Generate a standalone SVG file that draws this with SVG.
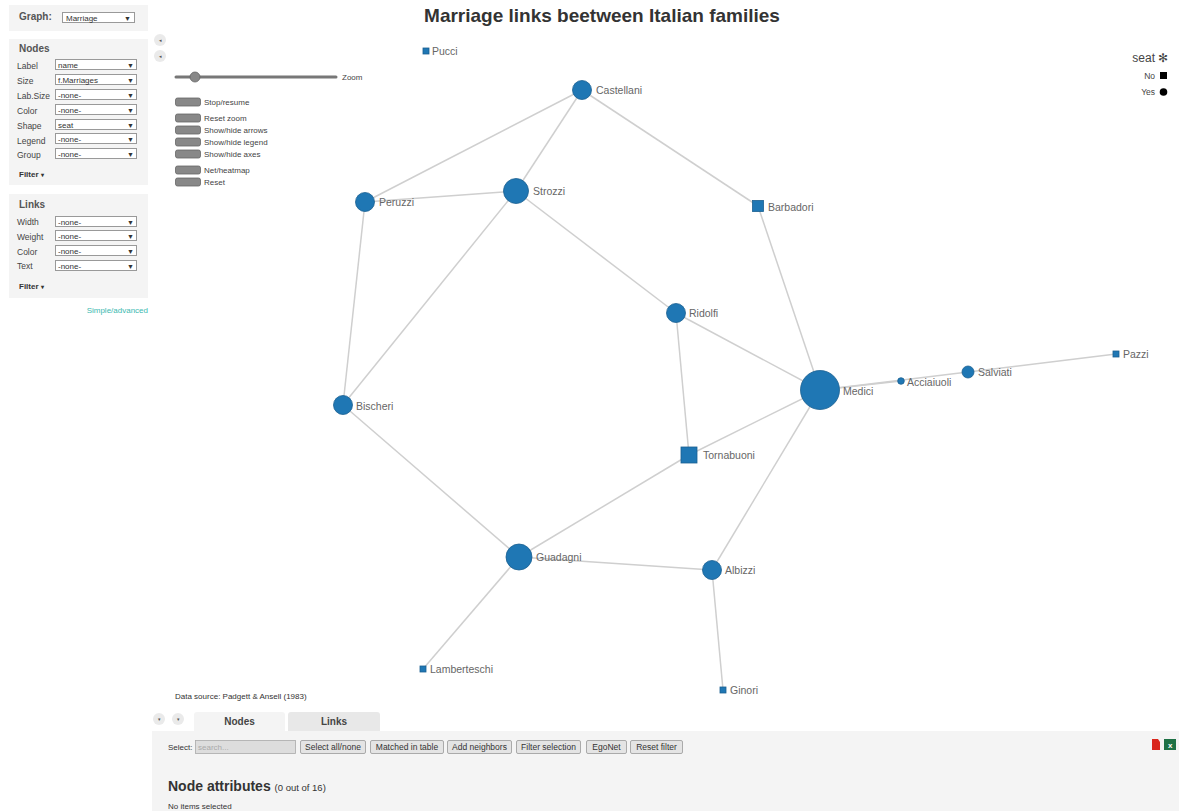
<svg xmlns="http://www.w3.org/2000/svg" width="1179" height="811" viewBox="0 0 1179 811">
<defs>
<style>
text{font-family:"Liberation Sans",Arial,sans-serif;}
.panel{fill:#f4f4f4;}
.lbl{font-size:8.5px;fill:#444;}
.sel{fill:#fff;stroke:#999;stroke-width:1;}
.selt{font-size:8px;fill:#333;}
.arr{font-size:7px;fill:#333;}
.hd{font-size:10px;font-weight:bold;fill:#555;}
.flt{font-size:8px;font-weight:bold;fill:#333;}
.btn{fill:#888;stroke:#666;stroke-width:0.8;}
.bt{font-size:8px;fill:#444;}
.edge{stroke:#cfcfcf;stroke-width:1.5;fill:none;}
.nd{fill:#1f77b4;stroke:#1a5f91;stroke-width:0.8;}
.nl{font-size:10.5px;fill:#666;}
.bb{fill:#e4e4e4;stroke:#999;stroke-width:0.8;}
.bbt{font-size:8.5px;fill:#333;text-anchor:middle;}
.sm{fill:#eaeaea;}
</style>
</defs>
<rect width="1179" height="811" fill="#fff"/>

<!-- Left panel -->
<g id="graph-panel">
<rect class="panel" x="9" y="5" width="139" height="26"/>
<text x="19" y="20" class="hd" style="font-size:10px">Graph:</text>
<rect class="sel" x="62.5" y="12.5" width="72" height="10"/>
<text x="66" y="20.5" class="selt">Marriage</text>
<text x="124" y="20.5" class="arr">▼</text>
</g>
<g id="nodes-panel">
<rect class="panel" x="9" y="39" width="139" height="146"/>
<text x="19" y="52" class="hd">Nodes</text>
<text x="17" y="69" class="lbl">Label</text>
<text x="17" y="84" class="lbl">Size</text>
<text x="17" y="99" class="lbl">Lab.Size</text>
<text x="17" y="114" class="lbl">Color</text>
<text x="17" y="129" class="lbl">Shape</text>
<text x="17" y="144" class="lbl">Legend</text>
<text x="17" y="158" class="lbl">Group</text>
<rect class="sel" x="55.5" y="59.5" width="81" height="10"/><text x="58" y="67.5" class="selt">name</text><text x="127" y="67.5" class="arr">▼</text>
<rect class="sel" x="55.5" y="74.5" width="81" height="10"/><text x="58" y="82.5" class="selt">f.Marriages</text><text x="127" y="82.5" class="arr">▼</text>
<rect class="sel" x="55.5" y="89.5" width="81" height="10"/><text x="58" y="97.5" class="selt">-none-</text><text x="127" y="97.5" class="arr">▼</text>
<rect class="sel" x="55.5" y="104.5" width="81" height="10"/><text x="58" y="112.5" class="selt">-none-</text><text x="127" y="112.5" class="arr">▼</text>
<rect class="sel" x="55.5" y="119.5" width="81" height="10"/><text x="58" y="127.5" class="selt">seat</text><text x="127" y="127.5" class="arr">▼</text>
<rect class="sel" x="55.5" y="133.5" width="81" height="10"/><text x="58" y="141.5" class="selt">-none-</text><text x="127" y="141.5" class="arr">▼</text>
<rect class="sel" x="55.5" y="148.5" width="81" height="10"/><text x="58" y="156.5" class="selt">-none-</text><text x="127" y="156.5" class="arr">▼</text>
<text x="19" y="177" class="flt">Filter <tspan font-size="6">▾</tspan></text>
</g>
<g id="links-panel">
<rect class="panel" x="9" y="194" width="139" height="104"/>
<text x="19" y="208" class="hd">Links</text>
<text x="17" y="225" class="lbl">Width</text>
<text x="17" y="240" class="lbl">Weight</text>
<text x="17" y="255" class="lbl">Color</text>
<text x="17" y="269" class="lbl">Text</text>
<rect class="sel" x="55.5" y="216.5" width="81" height="10"/><text x="58" y="224.5" class="selt">-none-</text><text x="127" y="224.5" class="arr">▼</text>
<rect class="sel" x="55.5" y="230.5" width="81" height="10"/><text x="58" y="238.5" class="selt">-none-</text><text x="127" y="238.5" class="arr">▼</text>
<rect class="sel" x="55.5" y="245.5" width="81" height="10"/><text x="58" y="253.5" class="selt">-none-</text><text x="127" y="253.5" class="arr">▼</text>
<rect class="sel" x="55.5" y="260.5" width="81" height="10"/><text x="58" y="268.5" class="selt">-none-</text><text x="127" y="268.5" class="arr">▼</text>
<text x="19" y="289" class="flt">Filter <tspan font-size="6">▾</tspan></text>
<text x="148" y="313" style="font-size:8px;fill:#3bb9b0" text-anchor="end">Simple/advanced</text>
</g>

<!-- small collapse buttons -->
<g id="toggles">
<circle cx="160" cy="40" r="6" class="sm"/><text x="160" y="42" style="font-size:5px;fill:#555" text-anchor="middle">◂</text>
<circle cx="160" cy="56" r="6" class="sm"/><text x="160" y="58" style="font-size:5px;fill:#555" text-anchor="middle">◂</text>
</g>

<!-- Title -->
<text x="602" y="22" text-anchor="middle" style="font-size:19px;font-weight:bold;fill:#333">Marriage links beetween Italian families</text>

<!-- Controls -->
<g id="controls">
<line x1="176" y1="77" x2="336" y2="77" stroke="#777" stroke-width="3" stroke-linecap="round"/>
<circle cx="195" cy="77" r="5" fill="#888" stroke="#666" stroke-width="0.8"/>
<text x="342" y="80" class="bt">Zoom</text>
<rect class="btn" x="175.5" y="98" width="25" height="8" rx="2"/><text x="204" y="105" class="bt">Stop/resume</text>
<rect class="btn" x="175.5" y="114" width="25" height="8" rx="2"/><text x="204" y="121" class="bt">Reset zoom</text>
<rect class="btn" x="175.5" y="126" width="25" height="8" rx="2"/><text x="204" y="133" class="bt">Show/hide arrows</text>
<rect class="btn" x="175.5" y="138" width="25" height="8" rx="2"/><text x="204" y="145" class="bt">Show/hide legend</text>
<rect class="btn" x="175.5" y="150" width="25" height="8" rx="2"/><text x="204" y="157" class="bt">Show/hide axes</text>
<rect class="btn" x="175.5" y="166" width="25" height="8" rx="2"/><text x="204" y="173" class="bt">Net/heatmap</text>
<rect class="btn" x="175.5" y="178" width="25" height="8" rx="2"/><text x="204" y="185" class="bt">Reset</text>
</g>

<!-- Legend -->
<g id="legend">
<text x="1155" y="62" text-anchor="end" style="font-size:12px;fill:#444">seat</text>
<text x="1163" y="62" text-anchor="middle" style="font-size:12px;fill:#444">✻</text>
<text x="1155" y="79" text-anchor="end" style="font-size:8.5px;fill:#444">No</text>
<rect x="1160" y="72" width="7" height="7" fill="#000"/>
<text x="1155" y="95" text-anchor="end" style="font-size:8.5px;fill:#444">Yes</text>
<circle cx="1163.5" cy="92" r="3.8" fill="#000"/>
</g>

<!-- Edges -->
<g id="connectors">
<line class="edge" x1="582" y1="90" x2="365" y2="202"/>
<line class="edge" x1="582" y1="90" x2="516" y2="191"/>
<line class="edge" x1="582" y1="90" x2="758" y2="206"/>
<line class="edge" x1="365" y1="202" x2="516" y2="191"/>
<line class="edge" x1="365" y1="202" x2="343" y2="405"/>
<line class="edge" x1="516" y1="191" x2="343" y2="405"/>
<line class="edge" x1="516" y1="191" x2="676" y2="313"/>
<line class="edge" x1="758" y1="206" x2="820" y2="390"/>
<line class="edge" x1="676" y1="313" x2="820" y2="390"/>
<line class="edge" x1="676" y1="313" x2="689" y2="455"/>
<line class="edge" x1="820" y1="390" x2="901" y2="381"/>
<line class="edge" x1="820" y1="390" x2="968" y2="372"/>
<line class="edge" x1="968" y1="372" x2="1116" y2="354"/>
<line class="edge" x1="820" y1="390" x2="689" y2="455"/>
<line class="edge" x1="820" y1="390" x2="712" y2="570"/>
<line class="edge" x1="343" y1="405" x2="519" y2="557"/>
<line class="edge" x1="689" y1="455" x2="519" y2="557"/>
<line class="edge" x1="519" y1="557" x2="712" y2="570"/>
<line class="edge" x1="519" y1="557" x2="423" y2="669"/>
<line class="edge" x1="712" y1="570" x2="723" y2="690"/>
</g>

<!-- Nodes -->
<g id="node-pucci"><rect class="nd" x="423" y="48" width="6" height="6"/><text class="nl" x="432" y="55">Pucci</text></g>
<g id="node-castellani"><circle class="nd" cx="582" cy="90" r="9.5"/><text class="nl" x="596" y="94">Castellani</text></g>
<g id="node-strozzi"><circle class="nd" cx="516" cy="191" r="12.5"/><text class="nl" x="533" y="195">Strozzi</text></g>
<g id="node-peruzzi"><circle class="nd" cx="365" cy="202" r="9.5"/><text class="nl" x="379" y="206">Peruzzi</text></g>
<g id="node-barbadori"><rect class="nd" x="752.5" y="200.5" width="11" height="11"/><text class="nl" x="768" y="211">Barbadori</text></g>
<g id="node-ridolfi"><circle class="nd" cx="676" cy="313" r="9.5"/><text class="nl" x="689" y="317">Ridolfi</text></g>
<g id="node-medici"><circle class="nd" cx="820" cy="390" r="19.5"/><text class="nl" x="843" y="395">Medici</text></g>
<g id="node-acciaiuoli"><circle class="nd" cx="901" cy="381" r="3.3"/><text class="nl" x="907" y="386">Acciaiuoli</text></g>
<g id="node-salviati"><circle class="nd" cx="968" cy="372" r="6"/><text class="nl" x="978" y="376">Salviati</text></g>
<g id="node-pazzi"><rect class="nd" x="1113" y="351" width="6" height="6"/><text class="nl" x="1123" y="358">Pazzi</text></g>
<g id="node-bischeri"><circle class="nd" cx="343" cy="405" r="9.5"/><text class="nl" x="356" y="410">Bischeri</text></g>
<g id="node-tornabuoni"><rect class="nd" x="681" y="447" width="16" height="16"/><text class="nl" x="703" y="459">Tornabuoni</text></g>
<g id="node-guadagni"><circle class="nd" cx="519" cy="557" r="13"/><text class="nl" x="536" y="561">Guadagni</text></g>
<g id="node-albizzi"><circle class="nd" cx="712" cy="570" r="9.5"/><text class="nl" x="725" y="574">Albizzi</text></g>
<g id="node-lamberteschi"><rect class="nd" x="420" y="666" width="6" height="6"/><text class="nl" x="430" y="673">Lamberteschi</text></g>
<g id="node-ginori"><rect class="nd" x="720" y="687" width="6" height="6"/><text class="nl" x="730" y="694">Ginori</text></g>

<text x="175" y="699" style="font-size:8px;fill:#333">Data source: Padgett &amp; Ansell (1983)</text>

<!-- Bottom panel -->
<g id="bottom">
<circle cx="159" cy="719" r="6" class="sm"/><text x="159" y="721" style="font-size:5px;fill:#555" text-anchor="middle">▾</text>
<circle cx="178" cy="719" r="6" class="sm"/><text x="178" y="721" style="font-size:5px;fill:#555" text-anchor="middle">▾</text>
<rect x="194" y="712" width="91" height="22" rx="3" fill="#f4f4f4"/>
<rect x="288" y="712" width="92" height="22" rx="3" fill="#e8e8e8"/>
<rect x="152" y="731" width="1027" height="80" fill="#f4f4f4"/>
<text x="239.5" y="725" text-anchor="middle" style="font-size:10px;font-weight:bold;fill:#444">Nodes</text>
<text x="334" y="725" text-anchor="middle" style="font-size:10px;font-weight:bold;fill:#444">Links</text>
<text x="168" y="750" style="font-size:8px;fill:#333">Select:</text>
<rect x="195.5" y="740.5" width="100" height="13" fill="#ddd" stroke="#aaa" stroke-width="0.8"/>
<text x="198" y="750" style="font-size:8px;fill:#aaa">search...</text>
<rect class="bb" x="300.5" y="740.5" width="65" height="13" rx="1.5"/><text class="bbt" x="333" y="750">Select all/none</text>
<rect class="bb" x="370.5" y="740.5" width="73" height="13" rx="1.5"/><text class="bbt" x="407" y="750">Matched in table</text>
<rect class="bb" x="447.5" y="740.5" width="64" height="13" rx="1.5"/><text class="bbt" x="479.5" y="750">Add neighbors</text>
<rect class="bb" x="516.5" y="740.5" width="64" height="13" rx="1.5"/><text class="bbt" x="548.5" y="750">Filter selection</text>
<rect class="bb" x="586.5" y="740.5" width="40" height="13" rx="1.5"/><text class="bbt" x="606.5" y="750">EgoNet</text>
<rect class="bb" x="630.5" y="740.5" width="52" height="13" rx="1.5"/><text class="bbt" x="656.5" y="750">Reset filter</text>
<text x="168" y="791" style="font-size:14px;font-weight:bold;fill:#333">Node attributes <tspan style="font-size:9.5px;font-weight:normal">(0 out of 16)</tspan></text>
<text x="168" y="809" style="font-size:8px;fill:#333">No items selected</text>
<path d="M1152 739 h6 l2 3 v8 h-8 z" fill="#d9261c"/>
<rect x="1164" y="739" width="12" height="11" fill="#1e7145"/>
<text x="1168" y="748" style="font-size:8px;font-weight:bold;fill:#fff">x</text>
</g>
</svg>
